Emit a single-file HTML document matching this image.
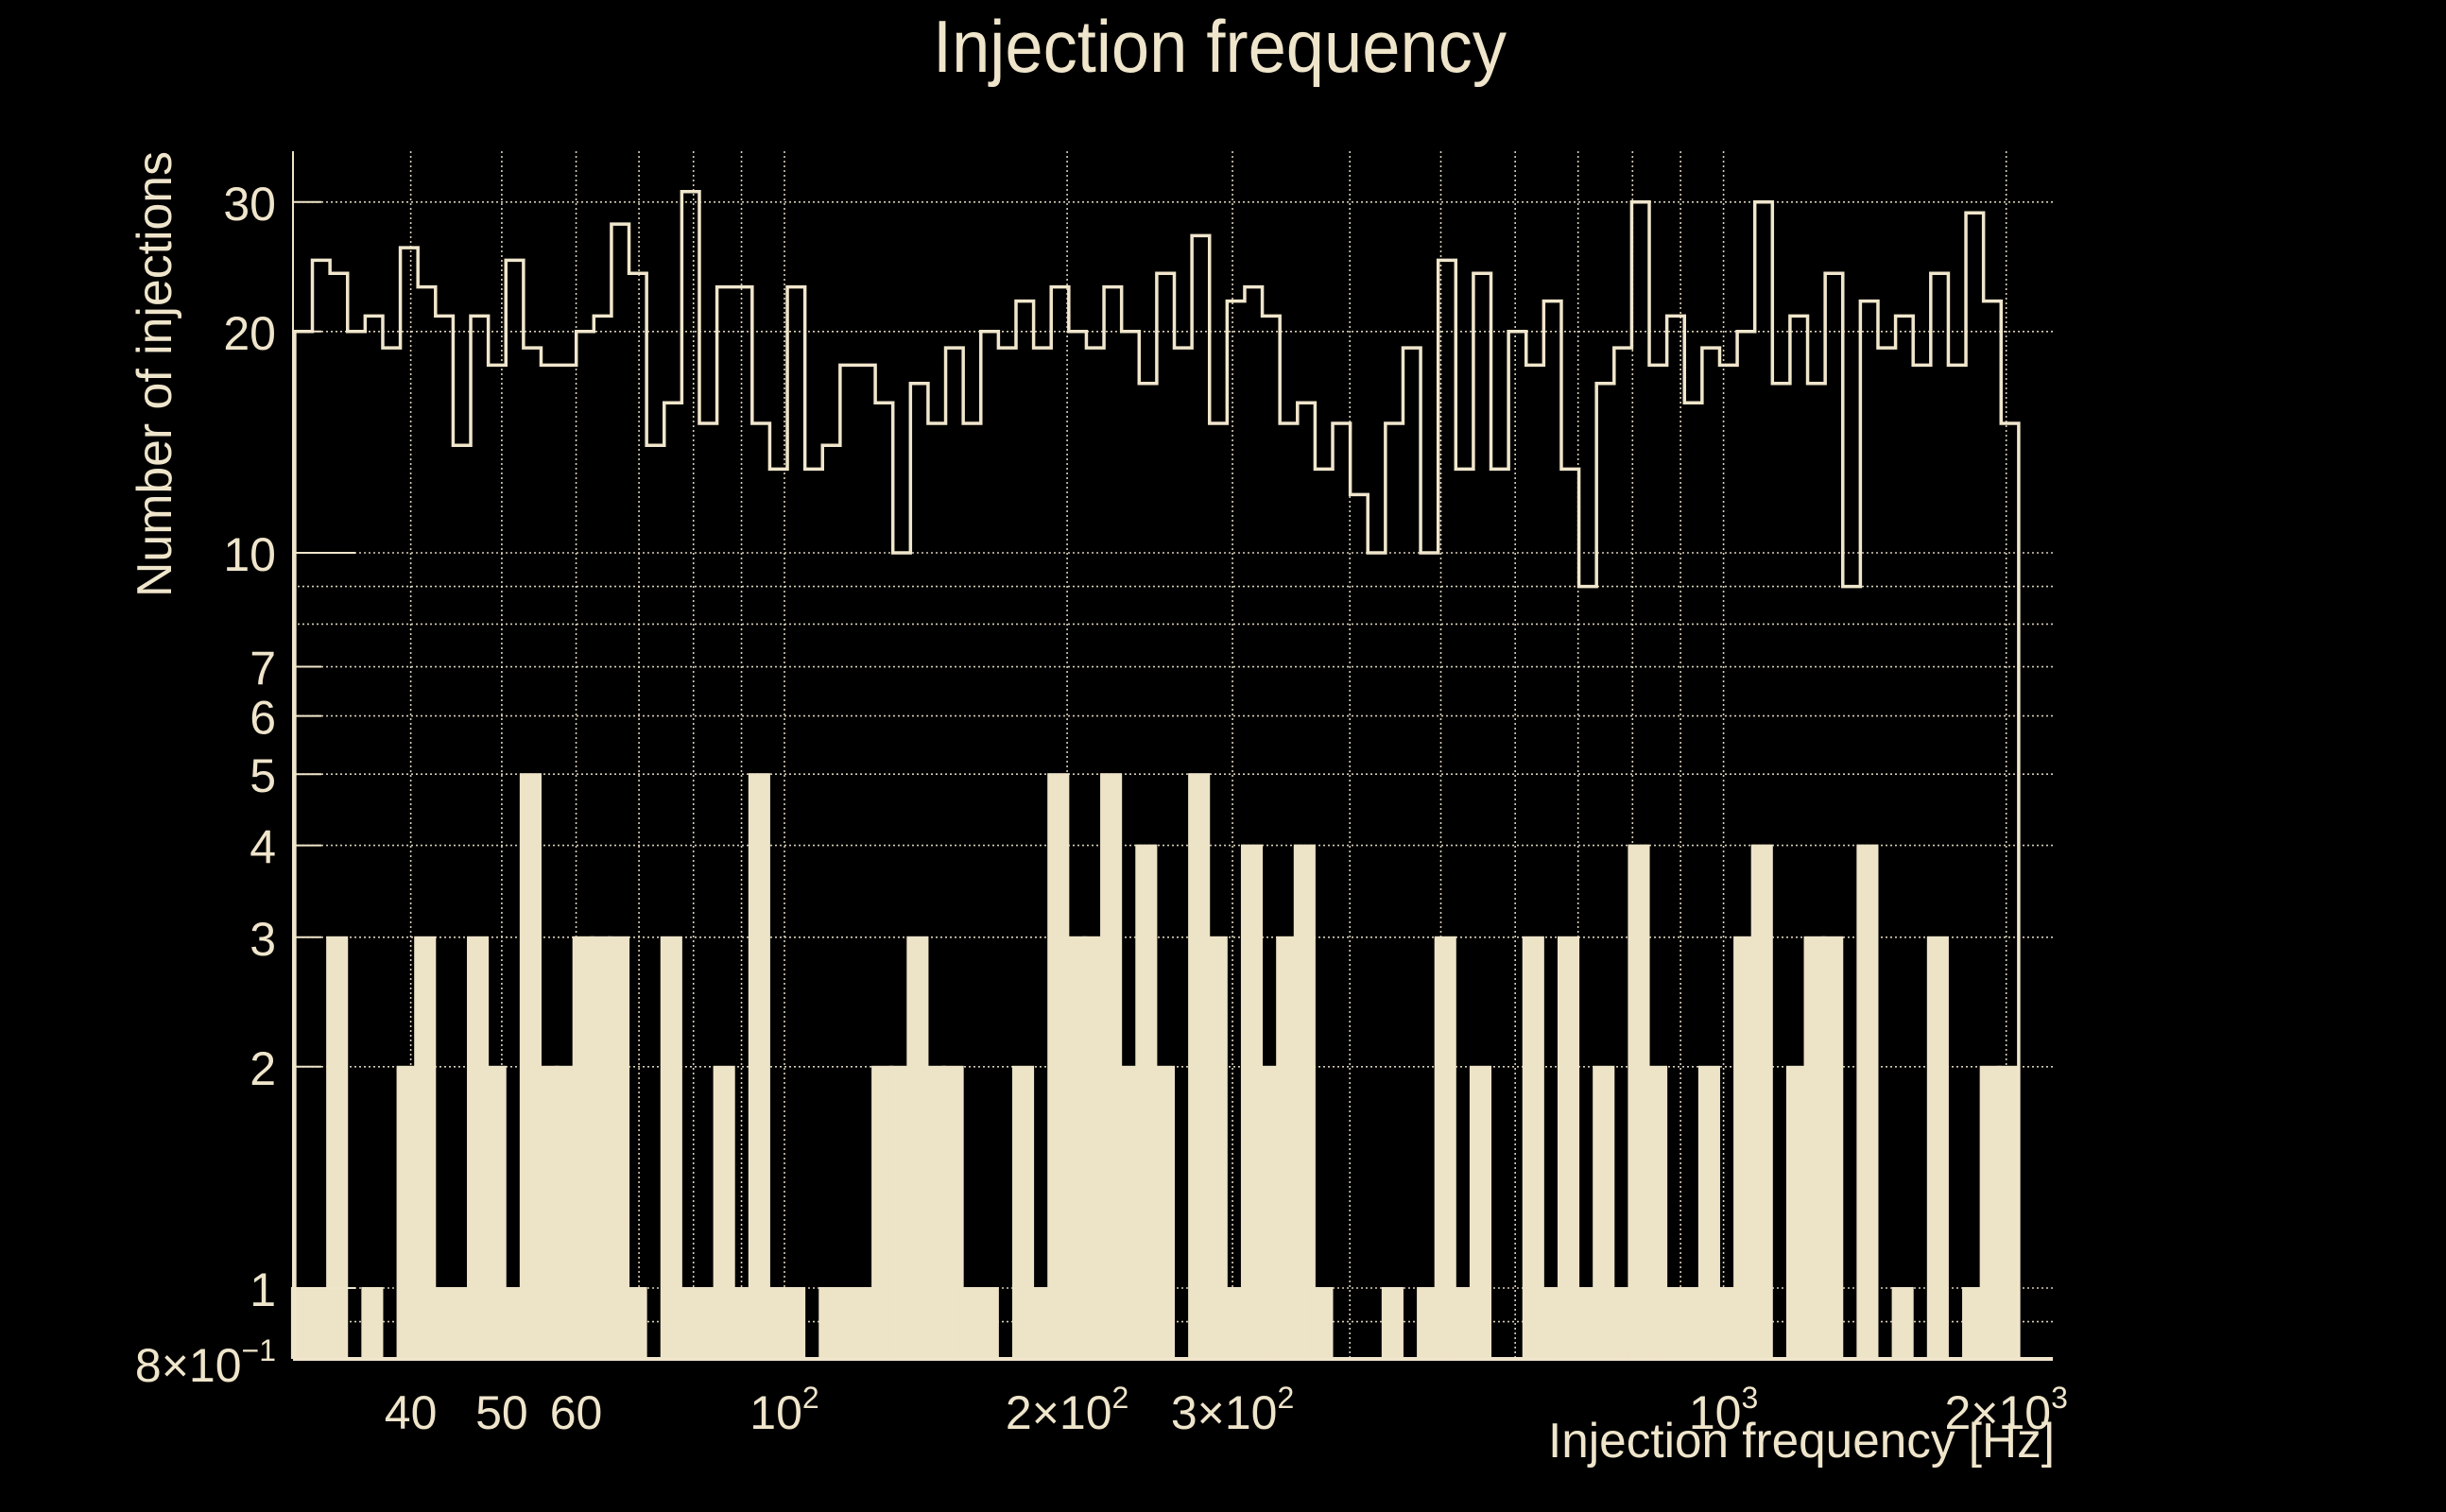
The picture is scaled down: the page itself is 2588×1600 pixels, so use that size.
<!DOCTYPE html>
<html><head><meta charset="utf-8"><title>Injection frequency</title>
<style>
html,body{margin:0;padding:0;background:#000;}
svg{display:block;}
text{font-family:"Liberation Sans","DejaVu Sans",sans-serif;fill:#efe5cb;}
</style></head>
<body>
<svg id="chart" xmlns="http://www.w3.org/2000/svg" width="2588" height="1600" viewBox="0 0 2588 1600">
<rect x="0" y="0" width="2588" height="1600" fill="#000"/>
<g id="grid"></g>
<g id="bars"></g>
<path id="stepline" fill="none" stroke="#f0e6cc" stroke-width="3.5" stroke-linejoin="miter"/>
<g id="axes"></g>
<text x="987" y="76" font-size="78" textLength="607" lengthAdjust="spacingAndGlyphs">Injection frequency</text>
<text transform="translate(181,632) rotate(-90)" x="0" y="0" font-size="52" textLength="472" lengthAdjust="spacingAndGlyphs">Number of injections</text>
<text x="2174" y="1542" font-size="52" text-anchor="end" textLength="536" lengthAdjust="spacingAndGlyphs">Injection frequency [Hz]</text>
</svg>
<script>
// ---- data ----
const lineCounts = [20,25,24,20,21,19,26,23,21,14,21,18,25,19,18,18,20,21,28,24,14,16,31,15,23,23,15,13,23,13,14,18,18,16,10,17,15,19,15,20,19,22,19,23,20,19,23,20,17,24,19,27,15,22,23,21,15,16,13,15,12,10,15,19,10,25,13,24,13,20,18,22,13,9,17,19,30,18,21,16,19,18,20,30,17,21,17,24,9,22,19,21,18,24,18,29,22,15];
const barCounts = [1,1,3,0,1,0,2,3,1,1,3,2,1,5,2,2,3,3,3,1,0,3,1,1,2,1,5,1,1,0,1,1,1,2,2,3,2,2,1,1,0,2,1,5,3,3,5,2,4,2,0,5,3,1,4,2,3,4,1,0,0,0,1,0,1,3,1,2,0,0,3,1,3,1,2,1,4,2,1,1,2,1,3,4,0,2,3,3,0,4,0,1,0,3,0,1,2,2];
const yTickValues = [30,20,10,7,6,5,4,3,2,1];
const yTickLabels = ["30","20","10","7","6","5","4","3","2","1"];
const yGridValues = [30,20,10,9,8,7,6,5,4,3,2,1,0.9];
const xGridValues = [40,50,60,70,80,90,100,200,300,400,500,600,700,800,900,1000,2000];
const xTickValues = [40,50,60,100,200,300,1000,2000];
const xTickBase = ["40","50","60","10","2\u00d710","3\u00d710","10","2\u00d710"];
const xTickSup = ["","","","2","2","2","3","3"];
const binLow = 30.1, binHigh = 2062;

// ---- scales ----
const plotL = 310, plotR = 2172, plotT = 160, plotB = 1438;
const yMin = 0.8;
function xScale(f){ return 830 + (Math.log10(f) - 2) * 993.6; }
function yScale(v){ return 585 - 778 * (Math.log10(v) - 1); }
const NS = "http://www.w3.org/2000/svg";
const col = "#efe5cb";
function mk(tag, attrs, parent){
  const e = document.createElementNS(NS, tag);
  for (const k in attrs) e.setAttribute(k, attrs[k]);
  parent.appendChild(e);
  return e;
}
const nb = lineCounts.length;
const lb = Math.log10(binLow), hb = Math.log10(binHigh);
function edge(i){ return xScale(Math.pow(10, lb + (hb - lb) * i / nb)); }

// grid
const grid = document.getElementById('grid');
yGridValues.forEach(v => {
  const y = yScale(v);
  const l = mk('line', {x1: plotL, x2: plotR, y1: y, y2: y, stroke: col, 'stroke-width': 1.6, 'stroke-dasharray': '2 3', opacity: 0.9}, grid);
  
  
});
xGridValues.forEach(f => {
  const x = xScale(f);
  const l = mk('line', {x1: x, x2: x, y1: plotT, y2: plotB, stroke: col, 'stroke-width': 1.6, 'stroke-dasharray': '2 3', opacity: 0.9}, grid);
  
  
});

// bars
const bars = document.getElementById('bars');
barCounts.forEach((c, i) => {
  if (c <= 0) return;
  const x0 = edge(i) - 4, x1 = edge(i + 1);
  const y = yScale(c) - 1;
  const r = mk('rect', {x: x0, y: y, width: x1 - x0 + 0.5, height: plotB - y, fill: '#ede3c7'}, bars);
  
  
});

// step line
let d = 'M' + edge(0) + ',' + plotB;
lineCounts.forEach((c, i) => {
  const y = yScale(c);
  d += ' L' + edge(i) + ',' + y + ' L' + edge(i + 1) + ',' + y;
});
d += ' L' + edge(nb) + ',' + plotB;
document.getElementById('stepline').setAttribute('d', d);

// axes
const axes = document.getElementById('axes');
const la = mk('line', {x1: plotL, x2: plotL, y1: plotT, y2: plotB, stroke: col, 'stroke-width': 2}, axes);


const ba = mk('line', {x1: plotL, x2: plotR, y1: plotB, y2: plotB, stroke: col, 'stroke-width': 4}, axes);



yTickValues.forEach((v, i) => {
  const y = yScale(v);
  const len = (v === 10 || v === 1) ? 66 : 30;
  const t = mk('line', {x1: plotL, x2: plotL + len, y1: y, y2: y, stroke: col, 'stroke-width': 2}, axes);
  
  
  const tx = mk('text', {x: 292, y: y + 19, 'font-size': 50, 'text-anchor': 'end'}, axes);
  tx.textContent = yTickLabels[i];
  
  
});
// bottom y label 8x10^-1
const yb = mk('text', {x: 292, y: 1462, 'font-size': 50, 'text-anchor': 'end'}, axes);


yb.appendChild(document.createTextNode('8\u00d710'));
const ys = mk('tspan', {'font-size': 32, dy: -22}, yb);
ys.textContent = '\u22121';

xTickValues.forEach((f, i) => {
  const x = xScale(f);
  const tx = mk('text', {x: x, y: 1512, 'font-size': 50, 'text-anchor': 'middle'}, axes);
  
  
  tx.appendChild(document.createTextNode(xTickBase[i]));
  if (xTickSup[i]) {
    const s = mk('tspan', {'font-size': 32, dy: -22}, tx);
    s.textContent = xTickSup[i];
  }
});
</script>
</body></html>
